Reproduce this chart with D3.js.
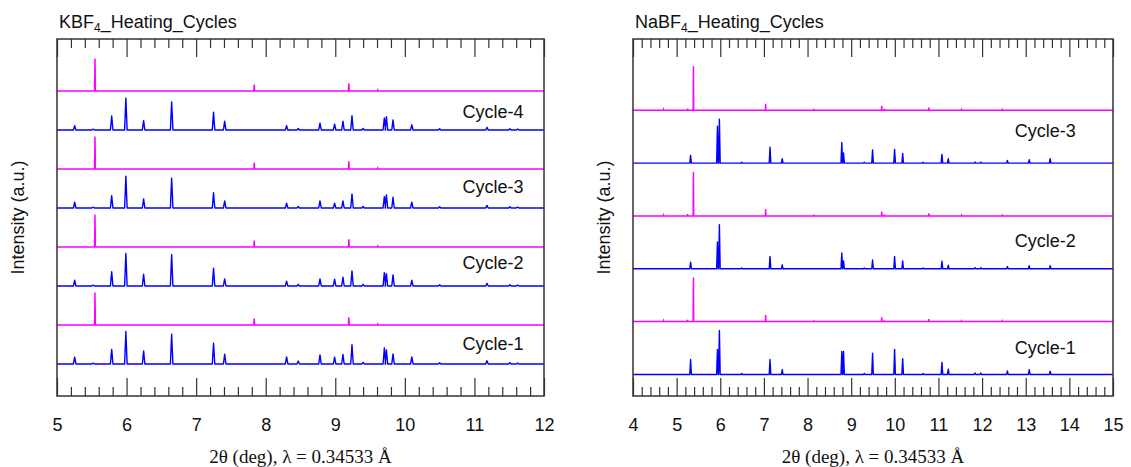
<!DOCTYPE html>
<html>
<head>
<meta charset="utf-8">
<script src="https://cdn.jsdelivr.net/npm/d3@7"></script>
<style>
  html, body { margin: 0; padding: 0; background: #fff; }
  svg { display: block; font-family: "Liberation Sans", Arial, sans-serif; }
</style>
</head>
<body>
<svg id="chart" width="1131" height="467"></svg>
<script>
// ---- data (intensities in a.u., 100 = strongest peak of a trace) ----
var kbfRefPeaks = [[5.546, 100], [7.835, 20], [9.195, 24], [9.61, 3]];
var kbfPeakPos = [5.254, 5.52, 5.786, 5.99, 6.245, 6.648, 7.25, 7.41, 8.30, 8.467, 8.78, 8.99,
                  9.11, 9.24, 9.40, 9.705, 9.735, 9.83, 10.10, 10.50, 11.18, 11.51, 11.62];
var kbfCycle1 = [21, 2.5, 45, 100, 40, 92, 64, 30, 22, 9, 28, 21, 29, 59, 5, 49, 43, 31, 22, 4, 10, 4, 3];
var kbfCycle2 = [18, 2.5, 44, 100, 36, 97, 55, 22, 15, 5, 22, 21, 27, 46, 5, 41, 38, 34, 18, 4, 8, 4, 3];
var kbfCycle3 = [18, 2.5, 38, 98, 28, 92, 47, 22, 15, 5, 22, 15, 22, 43, 5, 35, 40, 33, 18, 4, 8, 4, 3];
var kbfCycle4 = [13, 2.5, 43, 98, 29, 86, 55, 27, 13, 5, 21, 18, 27, 44, 5, 37, 41, 31, 16, 4, 8, 4, 3];

var nabfRefPeaks = [[4.70, 2], [5.25, 4], [5.385, 100], [7.04, 15], [8.15, 3], [9.70, 10],
                    [9.76, 3], [10.78, 6], [11.53, 1.5], [12.46, 1.5]];
var nabfPeakPos = [5.32, 5.935, 5.98, 6.49, 7.14, 7.42, 8.785, 8.825, 9.30, 9.49, 9.995, 10.18,
                   10.65, 11.08, 11.225, 11.84, 11.97, 12.58, 13.08, 13.56];
var nabfCycle1 = [34, 57, 100, 2, 34, 11, 52, 52, 2, 48, 57, 36, 2, 27, 12, 3, 3, 8, 11, 7.5];
var nabfCycle2 = [15, 61, 100, 2, 28, 9, 36, 18, 2, 20, 28, 18, 2, 17, 8, 2.5, 2.5, 5, 7, 7];
var nabfCycle3 = [17.5, 84, 100, 2, 36, 10, 47, 23, 2, 30, 31, 22, 2, 20, 10, 2.5, 2.5, 6, 8, 10];

var kbfLabels = ['Cycle-1', 'Cycle-2', 'Cycle-3', 'Cycle-4'];
var nabfLabels = ['Cycle-1', 'Cycle-2', 'Cycle-3'];
var kbfTicks = [5, 6, 7, 8, 9, 10, 11, 12];
var nabfTicks = [4, 5, 6, 7, 8, 9, 10, 11, 12, 13, 14, 15];

var rowStep = 120;
var blue = '#0000ff';
var magenta = '#ff00ff';

var svg = d3.select('#chart');

function zip(pos, heights) {
    return pos.map(function (p, i) { return [p, heights[i]]; });
}

drawPanel({
    left: 57, right: 544, top: 39, bottom: 396,
    xDomain: [5, 12], yDomain: [-98.5, 1000],
    ticks: kbfTicks,
    titleMain: 'KBF', titleSub: '4', titleRest: '_Heating_Cycles',
    ylabelX: 18,
    cycles: [kbfCycle1, kbfCycle2, kbfCycle3, kbfCycle4].map(function (c) { return zip(kbfPeakPos, c); }),
    ref: kbfRefPeaks,
    labels: kbfLabels, labelX: 10.83, labelLift: [62, 72, 66, 56]
});

drawPanel({
    left: 633, right: 1113, top: 39, bottom: 396,
    xDomain: [4, 15], yDomain: [-49, 762],
    ticks: nabfTicks,
    titleMain: 'NaBF', titleSub: '4', titleRest: '_Heating_Cycles',
    ylabelX: 604,
    cycles: [nabfCycle1, nabfCycle2, nabfCycle3].map(function (c) { return zip(nabfPeakPos, c); }),
    ref: nabfRefPeaks,
    labels: nabfLabels, labelX: 12.75, labelLift: [59, 64, 73]
});

function drawPanel(cfg) {
    var x = d3.scaleLinear().domain(cfg.xDomain).range([cfg.left, cfg.right]);
    var y = d3.scaleLinear().domain(cfg.yDomain).range([cfg.bottom, cfg.top]);
    var g = svg.append('g');

    var minor = d3.range(cfg.xDomain[0], cfg.xDomain[1] + 0.001, 0.2)
        .filter(function (v) { return Math.abs(v - Math.round(v)) > 0.01; });

    // clip so peaks stay inside the frame
    var clipId = 'clip' + cfg.left;
    svg.append('clipPath').attr('id', clipId).append('rect')
        .attr('x', cfg.left).attr('y', cfg.top)
        .attr('width', cfg.right - cfg.left).attr('height', cfg.bottom - cfg.top);

    var traces = g.append('g').attr('clip-path', 'url(#' + clipId + ')');

    function profile(peaks, offset, w) {
        var pts = [[cfg.xDomain[0], offset]];
        peaks.slice().sort(function (a, b) { return a[0] - b[0]; }).forEach(function (pk) {
            pts.push([pk[0] - w, offset]);
            pts.push([pk[0], offset + pk[1]]);
            pts.push([pk[0] + w, offset]);
        });
        pts.push([cfg.xDomain[1], offset]);
        return pts;
    }

    var line = d3.line()
        .x(function (d) { return x(d[0]); })
        .y(function (d) { return y(d[1]); });

    cfg.cycles.forEach(function (peaks, i) {
        var off = i * 2 * rowStep;
        traces.append('path')
            .attr('d', line(profile(peaks, off, 0.018)))
            .attr('fill', 'none')
            .attr('stroke', blue)
            .attr('stroke-width', 1.4)
            .attr('stroke-linejoin', 'round');
        traces.append('path')
            .attr('d', line(profile(cfg.ref, off + rowStep, 0.006)))
            .attr('fill', 'none')
            .attr('stroke', magenta)
            .attr('stroke-width', 1.5);
        g.append('text')
            .attr('x', x(cfg.labelX))
            .attr('y', y(off + cfg.labelLift[i]))
            .attr('dominant-baseline', 'central')
            .attr('font-size', 18)
            .attr('fill', '#111')
            .text(cfg.labels[i]);
    });

    // axes: inward ticks on bottom and top
    var h = cfg.bottom - cfg.top;
    var bottomMajor = d3.axisBottom(x).tickValues(cfg.ticks).tickSize(-18).tickPadding(22)
        .tickFormat(d3.format('d'));
    var bottomMinor = d3.axisBottom(x).tickValues(minor).tickSize(-9).tickFormat('');
    var topMajor = d3.axisTop(x).tickValues(cfg.ticks).tickSize(-18).tickFormat('');
    var topMinor = d3.axisTop(x).tickValues(minor).tickSize(-9).tickFormat('');

    [[bottomMajor, cfg.bottom], [bottomMinor, cfg.bottom], [topMajor, cfg.top], [topMinor, cfg.top]]
        .forEach(function (a) {
            var ax = g.append('g').attr('transform', 'translate(0,' + a[1] + ')').call(a[0]);
            ax.select('.domain').remove();
            ax.selectAll('line').attr('stroke', '#333').attr('stroke-width', 1.2);
            ax.selectAll('text').attr('font-size', 18).attr('fill', '#111')
                .attr('font-family', '"Liberation Sans", Arial, sans-serif');
        });

    g.append('rect')
        .attr('x', cfg.left).attr('y', cfg.top)
        .attr('width', cfg.right - cfg.left).attr('height', h)
        .attr('fill', 'none').attr('stroke', '#333').attr('stroke-width', 1.5);

    // title with subscript
    var t = g.append('text')
        .attr('x', cfg.left + 2).attr('y', 28)
        .attr('font-size', 18).attr('fill', '#111');
    t.append('tspan').text(cfg.titleMain);
    t.append('tspan').attr('font-size', 12).attr('dy', 4).text(cfg.titleSub);
    t.append('tspan').attr('dy', -4).text(cfg.titleRest);

    // y label
    g.append('text')
        .attr('transform', 'translate(' + cfg.ylabelX + ',' + (cfg.top + h / 2) + ') rotate(-90)')
        .attr('text-anchor', 'middle')
        .attr('dominant-baseline', 'central')
        .attr('font-size', 18).attr('fill', '#111')
        .text('Intensity (a.u.)');

    // x label (serif)
    g.append('text')
        .attr('x', (cfg.left + cfg.right) / 2)
        .attr('y', 463)
        .attr('text-anchor', 'middle')
        .attr('font-family', '"Liberation Serif", "Times New Roman", serif')
        .attr('font-size', 19).attr('fill', '#111')
        .text('2\u03b8 (deg), \u03bb = 0.34533 \u00c5');
}
</script>
</body>
</html>
